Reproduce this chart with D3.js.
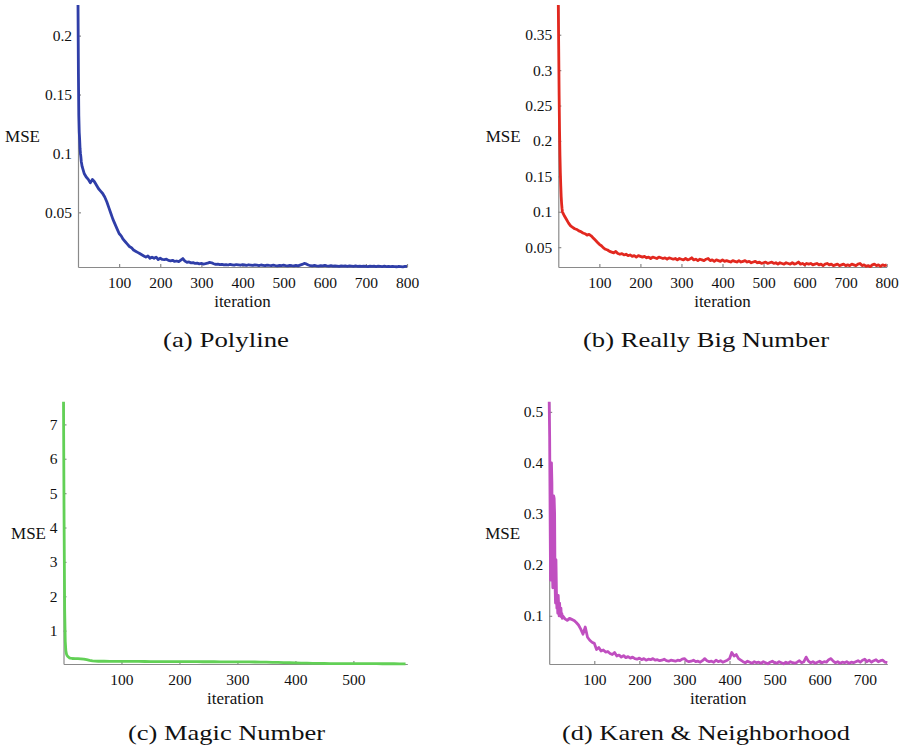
<!DOCTYPE html>
<html>
<head>
<meta charset="utf-8">
<script src="https://cdn.jsdelivr.net/npm/d3@7"></script>
<style>
  body { margin: 0; background: #fff; }
  svg { display: block; }
  .axis path, .axis line { stroke: #8a8a8a; stroke-width: 1.2; }
</style>
</head>
<body>
<div id="chart"></div>
<script>

var SERIF = "'Times New Roman', 'Liberation Serif', Times, serif";

// (a) Polyline : iterations 0..9, then every 5 up to 800
var polylineIter = d3.range(0, 10).concat(d3.range(10, 801, 5));
var polylineMSE = [0.226, 0.168, 0.132, 0.118, 0.112, 0.104, 0.1, 0.097, 0.093, 0.091,
  0.089, 0.083, 0.080, 0.078, 0.075, 0.078, 0.076, 0.073, 0.070, 0.068,
  0.066, 0.063, 0.059, 0.054, 0.049, 0.044, 0.040, 0.036, 0.032, 0.030,
  0.027, 0.025, 0.023, 0.021, 0.020, 0.018, 0.017, 0.016, 0.015, 0.014,
  0.013, 0.012, 0.013, 0.011, 0.012, 0.011, 0.012, 0.010, 0.011, 0.010,
  0.0098, 0.0102, 0.0092, 0.0088, 0.0093, 0.0083, 0.0087, 0.0082, 0.0095, 0.0108,
  0.0086, 0.0076, 0.0079, 0.0071, 0.0073, 0.0066, 0.0069, 0.0063, 0.0066, 0.0061,
  0.0064, 0.0068, 0.0075, 0.0072, 0.0064, 0.0058, 0.0061, 0.0056, 0.0059, 0.0054,
  0.0057, 0.0053, 0.0058, 0.0055, 0.0052, 0.0057, 0.0054, 0.0051, 0.0056, 0.0053,
  0.0050, 0.0055, 0.0052, 0.0049, 0.0054, 0.0051, 0.0048, 0.0053, 0.0050, 0.0047,
  0.0052, 0.0049, 0.0047, 0.0051, 0.0048, 0.0046, 0.0050, 0.0047, 0.0051, 0.0048,
  0.0046, 0.0050, 0.0047, 0.0045, 0.0049, 0.0046, 0.0052, 0.0058, 0.0066, 0.0062,
  0.0053, 0.0047, 0.0045, 0.0049, 0.0046, 0.0044, 0.0048, 0.0045, 0.0049, 0.0046,
  0.0044, 0.0047, 0.0043, 0.0046, 0.0044, 0.0042, 0.0046, 0.0043, 0.0045, 0.0042,
  0.0045, 0.0043, 0.0041, 0.0045, 0.0042, 0.0044, 0.0041, 0.0044, 0.0042, 0.0040,
  0.0044, 0.0041, 0.0043, 0.0040, 0.0043, 0.0041, 0.0039, 0.0043, 0.0040, 0.0042,
  0.0039, 0.0042, 0.0040, 0.0038, 0.0041, 0.0039, 0.0037, 0.0041, 0.0042];

// (b) Really Big Number
var bigIter = d3.range(0, 10).concat(d3.range(10, 801, 5));
var bigMSE = [0.392, 0.33, 0.265, 0.215, 0.18, 0.155, 0.137, 0.122, 0.112, 0.105,
  0.100, 0.094, 0.089, 0.084, 0.080, 0.078, 0.076, 0.075, 0.073, 0.072,
  0.070, 0.069, 0.067, 0.068, 0.066, 0.063, 0.060, 0.057, 0.054, 0.052,
  0.049, 0.047, 0.046, 0.044, 0.043, 0.042, 0.044, 0.041, 0.040, 0.041,
  0.039, 0.040, 0.038, 0.039, 0.037, 0.038, 0.036, 0.038, 0.037, 0.036,
  0.037, 0.035, 0.036, 0.034, 0.036, 0.035, 0.034, 0.036, 0.035, 0.034,
  0.035, 0.033, 0.035, 0.034, 0.033, 0.034, 0.032, 0.034, 0.033, 0.032,
  0.034, 0.032, 0.033, 0.035, 0.032, 0.033, 0.031, 0.033, 0.032, 0.031,
  0.033, 0.034, 0.031, 0.032, 0.030, 0.032, 0.031, 0.030, 0.032, 0.030,
  0.031, 0.030, 0.029, 0.031, 0.030, 0.029, 0.031, 0.029, 0.030, 0.031,
  0.029, 0.030, 0.028, 0.029, 0.030, 0.028, 0.029, 0.027, 0.028, 0.029,
  0.027, 0.028, 0.029, 0.027, 0.028, 0.026, 0.028, 0.027, 0.026, 0.028,
  0.027, 0.026, 0.028, 0.026, 0.027, 0.029, 0.026, 0.027, 0.025, 0.027,
  0.026, 0.027, 0.025, 0.026, 0.027, 0.025, 0.026, 0.024, 0.026, 0.027,
  0.025, 0.026, 0.024, 0.025, 0.026, 0.024, 0.025, 0.026, 0.024, 0.025,
  0.024, 0.026, 0.025, 0.024, 0.026, 0.027, 0.024, 0.025, 0.023, 0.024,
  0.0225, 0.025, 0.026, 0.024, 0.025, 0.023, 0.025, 0.024, 0.025];

// (c) Magic Number
var magicIter = [0, 1, 2, 3, 4, 5, 6, 8, 10, 12, 15, 20, 25, 30, 35, 40, 45, 50, 55, 60].concat(d3.range(70, 600, 10));
var magicMSE = [7.66, 4.2, 1.6, 0.7, 0.42, 0.33, 0.28, 0.24, 0.21, 0.2,
  0.19, 0.185, 0.185, 0.18, 0.17, 0.155, 0.135, 0.12, 0.115, 0.11,
  0.11, 0.108, 0.107, 0.106, 0.105, 0.104, 0.104, 0.103, 0.102, 0.102,
  0.101, 0.1, 0.1, 0.099, 0.098, 0.098, 0.097, 0.096, 0.096, 0.095,
  0.094, 0.094, 0.093, 0.092, 0.091, 0.09, 0.088, 0.086, 0.083, 0.079,
  0.075, 0.07, 0.066, 0.062, 0.058, 0.054, 0.05, 0.047, 0.045, 0.043,
  0.042, 0.041, 0.041, 0.04, 0.04, 0.039, 0.039, 0.038, 0.038, 0.037,
  0.037, 0.036, 0.036];

// (d) Karen & Neighborhood
var karenIter = d3.range(0, 30).concat(d3.range(30, 751, 5));
var karenMSE = [0.52, 0.45, 0.30, 0.17, 0.24, 0.40, 0.36, 0.19, 0.155, 0.25,
  0.335, 0.33, 0.30, 0.16, 0.125, 0.21, 0.15, 0.115, 0.13, 0.105,
  0.14, 0.12, 0.10, 0.125, 0.11, 0.10, 0.115, 0.098, 0.105, 0.095,
  0.100, 0.094, 0.091, 0.095, 0.093, 0.091, 0.087, 0.082, 0.074, 0.064,
  0.078, 0.058, 0.052, 0.048, 0.046, 0.034, 0.038, 0.031, 0.033, 0.029,
  0.030, 0.026, 0.024, 0.028, 0.021, 0.023, 0.019, 0.022, 0.018, 0.020,
  0.017, 0.019, 0.016, 0.015, 0.017, 0.014, 0.016, 0.013, 0.015, 0.014,
  0.016, 0.013, 0.014, 0.012, 0.013, 0.015, 0.012, 0.011, 0.013, 0.012,
  0.011, 0.013, 0.012, 0.015, 0.016, 0.012, 0.010, 0.011, 0.013, 0.010,
  0.011, 0.009, 0.012, 0.016, 0.012, 0.010, 0.011, 0.009, 0.013, 0.010,
  0.012, 0.009, 0.011, 0.013, 0.016, 0.028, 0.021, 0.024, 0.016, 0.013,
  0.010, 0.008, 0.011, 0.009, 0.007, 0.010, 0.008, 0.009, 0.007, 0.010,
  0.008, 0.006, 0.009, 0.011, 0.008, 0.007, 0.010, 0.008, 0.006, 0.009,
  0.007, 0.010, 0.008, 0.007, 0.009, 0.012, 0.008, 0.010, 0.019, 0.011,
  0.008, 0.010, 0.007, 0.009, 0.011, 0.008, 0.010, 0.009, 0.014, 0.016,
  0.011, 0.008, 0.010, 0.007, 0.009, 0.008, 0.010, 0.007, 0.009, 0.008,
  0.010, 0.012, 0.009, 0.013, 0.015, 0.010, 0.013, 0.009, 0.012, 0.014,
  0.010, 0.012, 0.013, 0.009, 0.008];

var polylineXTicks = [100, 200, 300, 400, 500, 600, 700, 800];
var polylineYTicks = [0.05, 0.1, 0.15, 0.2];
var bigXTicks = [100, 200, 300, 400, 500, 600, 700, 800];
var bigYTicks = [0.05, 0.1, 0.15, 0.2, 0.25, 0.3, 0.35];
var magicXTicks = [100, 200, 300, 400, 500];
var magicYTicks = [1, 2, 3, 4, 5, 6, 7];
var karenXTicks = [100, 200, 300, 400, 500, 600, 700];
var karenYTicks = [0.1, 0.2, 0.3, 0.4, 0.5];

var svg = d3.select("#chart").append("svg")
  .attr("width", 902)
  .attr("height", 752);

function drawPanel(p) {
  var x = d3.scaleLinear().domain([0, p.xMax]).range([p.left, p.right]);
  var y = d3.scaleLinear().domain([p.yFloor, d3.max(p.values)]).range([p.bottom, p.top]);

  var g = svg.append("g");

  var xa = g.append("g")
    .attr("class", "axis")
    .attr("transform", "translate(0," + p.bottom + ")")
    .call(d3.axisBottom(x).tickValues(p.xTicks).tickSizeInner(-3).tickSizeOuter(0).tickPadding(9.5));

  var ya = g.append("g")
    .attr("class", "axis")
    .attr("transform", "translate(" + p.left + ",0)")
    .call(d3.axisLeft(y).tickValues(p.yTicks).tickSizeInner(-3).tickSizeOuter(0).tickPadding(6)
      .tickFormat(function(d) { return String(d); }));

  [xa, ya].forEach(function(a) {
    a.attr("font-family", SERIF).attr("font-size", 15.5);
    a.selectAll("text").attr("fill", "#111");
  });

  var pts = p.iters.map(function(it, i) { return [it, p.values[i]]; })
    .filter(function(d) { return d[1] !== undefined; });

  var line = d3.line()
    .x(function(d) { return x(d[0]); })
    .y(function(d) { return y(d[1]); });

  g.append("path")
    .datum(pts)
    .attr("d", line)
    .attr("fill", "none")
    .attr("stroke", p.color)
    .attr("stroke-width", 2.8)
    .attr("stroke-linejoin", "round");

  g.append("text")
    .attr("font-family", SERIF)
    .attr("font-size", 17)
    .attr("fill", "#111")
    .attr("x", p.left - p.mseGap)
    .attr("y", (p.top + p.bottom) / 2 + 6)
    .attr("text-anchor", "end")
    .text("MSE");

  g.append("text")
    .attr("font-family", SERIF)
    .attr("font-size", 17)
    .attr("fill", "#111")
    .attr("x", (p.left + p.right) / 2)
    .attr("y", p.bottom + 40)
    .attr("text-anchor", "middle")
    .text("iteration");

  g.append("text")
    .attr("font-family", SERIF)
    .attr("font-size", 22)
    .attr("fill", "#111")
    .attr("x", p.capX)
    .attr("y", p.capY)
    .attr("textLength", p.capW)
    .attr("lengthAdjust", "spacingAndGlyphs")
    .text(p.caption);
}

drawPanel({
  iters: polylineIter, values: polylineMSE, xMax: 800, yFloor: 0.0036,
  xTicks: polylineXTicks, yTicks: polylineYTicks, color: "#2f3ea8",
  left: 78, right: 407, top: 5, bottom: 267, mseGap: 38,
  caption: "(a) Polyline", capX: 163, capY: 347, capW: 126
});

drawPanel({
  iters: bigIter, values: bigMSE, xMax: 800, yFloor: 0.022,
  xTicks: bigXTicks, yTicks: bigYTicks, color: "#e2281f",
  left: 558.3, right: 886.7, top: 5, bottom: 267, mseGap: 37.6,
  caption: "(b) Really Big Number", capX: 583, capY: 347, capW: 246
});

drawPanel({
  iters: magicIter, values: magicMSE, xMax: 593, yFloor: 0.03,
  xTicks: magicXTicks, yTicks: magicYTicks, color: "#62d056",
  left: 63.5, right: 407.3, top: 401.7, bottom: 664, mseGap: 17.5,
  caption: "(c) Magic Number", capX: 128, capY: 740, capW: 197
});

drawPanel({
  iters: karenIter, values: karenMSE, xMax: 750, yFloor: 0.0055,
  xTicks: karenXTicks, yTicks: karenYTicks, color: "#c04fc0",
  left: 549.2, right: 887.3, top: 401.7, bottom: 664, mseGap: 29,
  caption: "(d) Karen & Neighborhood", capX: 562, capY: 740, capW: 288
});

</script>
</body>
</html>
